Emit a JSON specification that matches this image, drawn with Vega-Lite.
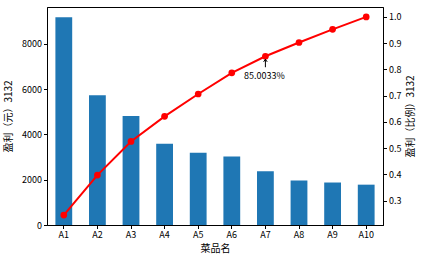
{
  "$schema": "https://vega.github.io/schema/vega-lite/v6.json",
  "width": 336,
  "height": 218,
  "autosize": {"type": "none"},
  "padding": {"left": 47, "top": 7, "right": 41, "bottom": 35},
  "config": {
    "view": {"stroke": "black", "strokeWidth": 1},
    "font": "Noto Sans CJK SC",
    "axis": {
      "labelFont": "Noto Sans CJK SC",
      "titleFont": "Noto Sans CJK SC",
      "labelFontSize": 9,
      "titleFontSize": 10,
      "titleFontWeight": "normal",
      "labelColor": "black",
      "titleColor": "black",
      "domainColor": "black",
      "tickColor": "black",
      "tickSize": 3.5,
      "grid": false
    }
  },
  "data": {
    "values": [
      {"name": "A1", "profit": 9173, "cum": 0.244385},
      {"name": "A2", "profit": 5729, "cum": 0.397017},
      {"name": "A3", "profit": 4811, "cum": 0.525190},
      {"name": "A4", "profit": 3594, "cum": 0.620941},
      {"name": "A5", "profit": 3195, "cum": 0.706061},
      {"name": "A6", "profit": 3026, "cum": 0.786679},
      {"name": "A7", "profit": 2378, "cum": 0.850033},
      {"name": "A8", "profit": 1970, "cum": 0.902517},
      {"name": "A9", "profit": 1877, "cum": 0.952524},
      {"name": "A10", "profit": 1782, "cum": 1.0}
    ]
  },
  "encoding": {
    "x": {
      "field": "name",
      "type": "nominal",
      "sort": null,
      "scale": {"paddingInner": 0.5, "paddingOuter": 0.25},
      "axis": {"title": "菜品名", "labelAngle": 0, "titlePadding": 4}
    }
  },
  "layer": [
    {
      "mark": {"type": "bar", "color": "#1f77b4"},
      "encoding": {
        "y": {
          "field": "profit",
          "type": "quantitative",
          "scale": {"domain": [0, 9631], "nice": false, "zero": true},
          "axis": {"title": "盈利（元）3132", "values": [0, 2000, 4000, 6000, 8000], "format": "d", "titlePadding": 8}
        }
      }
    },
    {
      "encoding": {
        "y": {
          "field": "cum",
          "type": "quantitative",
          "scale": {"domain": [0.2066, 1.0378], "nice": false, "zero": false},
          "axis": {"title": "盈利（比例）3132", "orient": "right", "values": [0.3, 0.4, 0.5, 0.6, 0.7, 0.8, 0.9, 1.0], "format": ".1f", "titleAngle": -90, "titleBaseline": "top", "titlePadding": 5}
        }
      },
      "layer": [
        {"mark": {"type": "line", "color": "red", "strokeWidth": 2}},
        {"mark": {"type": "point", "filled": true, "color": "red", "size": 45, "opacity": 1}},
        {
          "transform": [{"filter": "datum.name == 'A7'"}],
          "mark": {"type": "point", "shape": "M0,-1L-0.45,-0.35M0,-1L0.45,-0.35M0,-1L0,1", "filled": false, "stroke": "black", "strokeWidth": 1, "size": 64, "yOffset": 7, "opacity": 1}
        },
        {
          "transform": [{"filter": "datum.name == 'A7'"}],
          "mark": {"type": "text", "fontSize": 9, "color": "black", "yOffset": 20, "xOffset": -1, "baseline": "middle"},
          "encoding": {"text": {"field": "cum", "type": "quantitative", "format": ".4%"}}
        }
      ]
    }
  ],
  "resolve": {"scale": {"y": "independent"}}
}
